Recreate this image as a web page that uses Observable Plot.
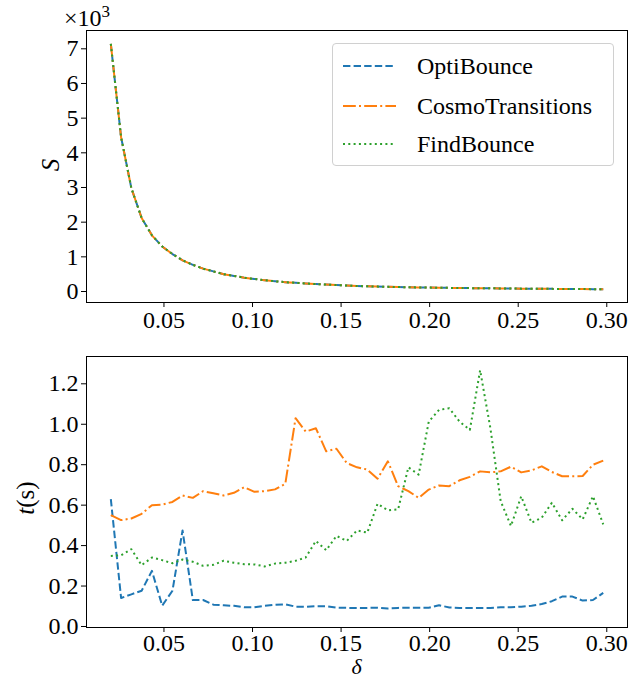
<!DOCTYPE html>
<html><head><meta charset="utf-8">
<script src="https://cdn.jsdelivr.net/npm/d3@7"></script>
<script src="https://cdn.jsdelivr.net/npm/@observablehq/plot@0.6"></script>
<style>
body{margin:0;background:#fff;}
#wrap{position:relative;width:636px;height:679px;font-family:"Liberation Serif","Times New Roman",Times,"DejaVu Serif",serif;}
#wrap svg{display:block;}
#wrap svg, #wrap svg text, #wrap svg tspan{font-family:"Liberation Serif","Times New Roman",Times,"DejaVu Serif",serif !important;}
#legend{position:absolute;left:332px;top:43px;width:282px;height:123px;border:1px solid #d0d0d0;border-radius:4px;background:rgba(255,255,255,0.8);box-sizing:border-box;}
.leg-item{position:absolute;left:0;height:30px;width:280px;}
.leg-item svg{position:absolute;left:9px;top:0;}
.leg-item span{position:absolute;left:84px;top:0;line-height:30px;font-size:24px;color:#000;white-space:nowrap;font-family:"Liberation Serif","Times New Roman",Times,"DejaVu Serif",serif;}
</style></head><body><div id="wrap"></div>
<script>
// ---- data ----
const methods = ["OptiBounce", "CosmoTransitions", "FindBounce"];
const delta = [0.0200,0.0258,0.0316,0.0374,0.0432,0.0490,0.0548,0.0605,0.0663,0.0721,
  0.0779,0.0837,0.0895,0.0953,0.1011,0.1069,0.1127,0.1185,0.1243,0.1300,
  0.1358,0.1416,0.1474,0.1532,0.1590,0.1648,0.1706,0.1764,0.1822,0.1880,
  0.1938,0.1995,0.2053,0.2111,0.2169,0.2227,0.2285,0.2343,0.2401,0.2459,
  0.2517,0.2575,0.2633,0.2690,0.2748,0.2806,0.2864,0.2922,0.2980];
const sOpti = [7140,4450,2980,2120,1620,1300,1080,900,770,660,
  580,500,450,400,360,325,295,270,250,232,
  215,200,185,172,161,150,141,134,128,122,
  117,113,109,105,101,98,95,92,89,86,
  83,80,78,76,74,72,70,68,66];
const sCosmo = [7140,4450,2980,2120,1620,1300,1080,900,770,660,
  580,500,450,400,360,325,295,270,250,232,
  215,200,185,172,161,150,141,134,128,122,
  117,113,109,105,101,98,95,92,89,86,
  83,80,78,76,74,72,70,68,66];
const sFind = [7140,4450,2980,2120,1620,1300,1080,900,770,660,
  580,500,450,400,360,325,295,270,250,232,
  215,200,185,172,161,150,141,134,128,122,
  117,113,109,105,101,98,95,92,89,86,
  83,80,78,76,74,72,70,68,66];
const tOpti = [0.630,0.141,0.159,0.177,0.275,0.103,0.177,0.475,0.131,0.131,
  0.108,0.105,0.102,0.095,0.095,0.102,0.107,0.110,0.098,0.097,
  0.100,0.100,0.093,0.092,0.092,0.092,0.093,0.089,0.092,0.093,
  0.093,0.093,0.105,0.094,0.092,0.092,0.092,0.092,0.095,0.095,
  0.098,0.103,0.111,0.125,0.148,0.148,0.128,0.131,0.166];
const tCosmo = [0.551,0.526,0.534,0.557,0.600,0.603,0.616,0.648,0.636,0.669,
  0.659,0.648,0.661,0.689,0.666,0.669,0.678,0.705,1.030,0.964,
  0.980,0.866,0.879,0.808,0.787,0.776,0.731,0.817,0.694,0.669,
  0.636,0.677,0.697,0.694,0.723,0.740,0.767,0.762,0.767,0.790,
  0.762,0.772,0.792,0.764,0.743,0.743,0.744,0.800,0.820];
const tFind = [0.349,0.352,0.382,0.303,0.341,0.328,0.313,0.331,0.320,0.300,
  0.305,0.325,0.315,0.308,0.307,0.297,0.311,0.315,0.325,0.341,
  0.423,0.377,0.448,0.423,0.475,0.464,0.607,0.574,0.579,0.787,
  0.751,1.013,1.071,1.079,1.013,0.972,1.267,0.980,0.620,0.497,
  0.644,0.513,0.538,0.612,0.525,0.582,0.530,0.644,0.505];
const xTicks = [0.05,0.10,0.15,0.20,0.25,0.30];
const sTicks = [0,1000,2000,3000,4000,5000,6000,7000];
const tTicks = [0,0.2,0.4,0.6,0.8,1.0,1.2];

// ---- styles ----
const colors = ["#1f77b4","#ff7f0e","#2ca02c"];
const dashes = ["7.4,3.2","12.8,3.2,2,3.2","2,3.3"];
const font = "'Liberation Serif', 'Times New Roman', Times, 'DejaVu Serif', serif";

function rows(ys){ return delta.map((d,i)=>({d, v: ys[i]})); }
function lines(series){
  return series.map((ys,k)=>Plot.line(rows(ys),{x:"d",y:"v",stroke:colors[k],strokeWidth:2,
    strokeDasharray:dashes[k],strokeLinecap:"butt",strokeLinejoin:"round"}));
}
function xScale(pad){
  return {domain:[0.00627,0.3117], ticks:xTicks, tickFormat:d=>d.toFixed(2), tickSize:5, tickPadding:pad, label:null};
}
const style = {fontFamily:font, fontSize:"24px", color:"#000", background:"#fff", overflow:"visible"};

const topPlot = Plot.plot({
  width:636, height:340,
  marginLeft:86, marginRight:9, marginTop:30, marginBottom:38,
  style,
  x: xScale(3),
  y: {domain:[-317,7528], ticks:sTicks, tickFormat:d=>String(d/1000), tickSize:5, tickPadding:3, label:null},
  marks: [
    ...lines([sOpti,sCosmo,sFind]),
    Plot.frame({stroke:"#000", strokeWidth:1})
  ]
});

const botPlot = Plot.plot({
  width:636, height:339,
  marginLeft:86, marginRight:9, marginTop:16, marginBottom:52,
  style,
  x: xScale(1),
  y: {domain:[-0.005,1.335], ticks:tTicks, tickFormat:d=>d.toFixed(1), tickSize:5, tickPadding:3, label:null},
  marks: [
    ...lines([tOpti,tCosmo,tFind]),
    Plot.frame({stroke:"#000", strokeWidth:1})
  ]
});

const wrap = document.getElementById("wrap");
wrap.appendChild(topPlot);
wrap.appendChild(botPlot);

// axis titles
const ts = d3.select(topPlot);
ts.append("text").attr("transform","translate(50,165) rotate(-90)")
  .attr("text-anchor","middle").attr("dy","0.35em")
  .style("font-style","italic").style("font-size","25px").text("S");
const mult = ts.append("text").attr("x",87).attr("y",26).style("font-size","24px");
mult.append("tspan").text("×10");
mult.append("tspan").attr("dy",-9).style("font-size","17px").text("3");

const bs = d3.select(botPlot);
const tl = bs.append("text").attr("transform","translate(25,158) rotate(-90)")
  .attr("text-anchor","middle").attr("dy","0.35em").style("font-size","25px");
tl.append("tspan").style("font-style","italic").text("t");
tl.append("tspan").text("(s)");
bs.append("text").attr("x",356.5).attr("y",334).attr("text-anchor","middle")
  .style("font-style","italic").style("font-size","22px").text("δ");

// legend
const leg = document.createElement("div");
leg.id = "legend";
const ys = [7, 47, 85];
methods.forEach((m,k)=>{
  const it = document.createElement("div");
  it.className = "leg-item";
  it.style.top = ys[k] + "px";
  it.innerHTML = `<svg width="56" height="30"><line x1="1" x2="54" y1="15" y2="15" stroke="${colors[k]}" stroke-width="2" stroke-dasharray="${dashes[k]}"/></svg><span>${m}</span>`;
  leg.appendChild(it);
});
wrap.appendChild(leg);
</script>
</body></html>
